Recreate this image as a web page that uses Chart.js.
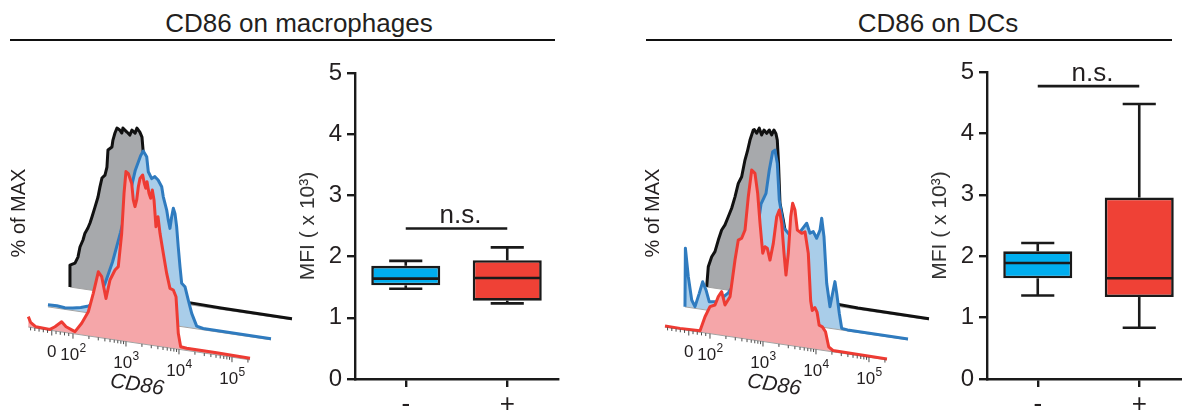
<!DOCTYPE html>
<html>
<head>
<meta charset="utf-8">
<script src="https://cdn.jsdelivr.net/npm/chart.js@4.4.1/dist/chart.umd.min.js"></script>
<style>
html, body { margin: 0; padding: 0; background: #fff; overflow: hidden; width: 1182px; height: 416px; }
.wrap { position: relative; width: 1182px; height: 416px; font-family: 'Liberation Sans', Arial, sans-serif; color: #231f20; }
canvas { position: absolute; }
.ttl { position: absolute; top: 8px; height: 30px; line-height: 30px; font-size: 26px; text-align: center; white-space: nowrap; }
.rule { position: absolute; top: 38.5px; height: 2.5px; background: #111; }
</style>
</head>
<body>
<div class="wrap">
  <div class="ttl" style="left:149px;width:300px">CD86 on macrophages</div>
  <div class="rule" style="left:10px;width:545px"></div>
  <div class="ttl" style="left:788px;width:300px">CD86 on DCs</div>
  <div class="rule" style="left:646px;width:526px"></div>
  <canvas id="histMac" width="300" height="300" style="left:0;top:100px"></canvas>
  <canvas id="boxMac" width="278" height="366" style="left:290px;top:50px"></canvas>
  <canvas id="histDC" width="300" height="300" style="left:637px;top:100px"></canvas>
  <canvas id="boxDC" width="278" height="366" style="left:922px;top:50px"></canvas>
</div>
<script>
// ---- histogram data: [CD86 display position (decades), % of max] ----
const macRed = [[1.157,6.1],[1.2,3],[1.3,0.8],[1.566,0.5],[1.66,2.5],[1.786,6],[1.87,3.5],[2.038,1.4],[2.164,6.9],[2.289,14.2],[2.383,25.5],[2.478,38.6],[2.542,36],[2.623,23.6],[2.698,34.8],[2.793,41.1],[2.855,43.4],[2.919,63.3],[2.963,86.9],[3.0,100],[3.044,99],[3.108,93.5],[3.138,83.9],[3.17,80.1],[3.202,84.2],[3.233,92.1],[3.265,97.2],[3.315,99.4],[3.346,94.6],[3.372,91.9],[3.397,95.8],[3.434,89.2],[3.466,86.4],[3.497,91.4],[3.529,85.7],[3.566,70.1],[3.604,76.2],[3.642,66.6],[3.704,55.1],[3.768,43.6],[3.83,35.1],[3.893,34.4],[3.944,30.7],[3.987,9.4],[4.032,1.7],[4.145,1.3],[4.71,1.3],[5.34,0.9]];
const macBlue = [[1.132,1.2],[1.3,1.4],[1.45,0.9],[1.6,1.5],[1.75,2.5],[1.9,4],[2.05,8],[2.2,18],[2.35,32],[2.5,50],[2.65,70],[2.78,88],[2.88,97],[2.93,100],[2.995,96.9],[3.025,88.2],[3.089,84.5],[3.15,85.9],[3.21,84.2],[3.278,80.6],[3.308,74.8],[3.372,67.3],[3.402,61.6],[3.434,56.8],[3.466,63.8],[3.497,68.9],[3.529,65.9],[3.56,58.4],[3.59,46.7],[3.623,35.1],[3.655,25.5],[3.717,23.8],[3.78,16.2],[3.844,8.7],[3.938,1.6],[4.06,0.8],[5.34,0.6]];
const macBlack = [[1.151,0],[1.151,12.9],[1.246,14.5],[1.302,18.3],[1.34,24.4],[1.397,28.8],[1.434,33],[1.49,36.3],[1.529,39.4],[1.566,43.1],[1.623,49.2],[1.68,55.4],[1.717,61.5],[1.755,66.9],[1.812,68.9],[1.849,73.8],[1.868,83.9],[1.943,86],[1.962,90.2],[2.0,94.5],[2.038,97.6],[2.09,96.7],[2.13,95.1],[2.15,98.1],[2.226,96.1],[2.28,94.6],[2.32,97.7],[2.38,96.2],[2.415,99.3],[2.47,97.2],[2.51,94.4],[2.585,66.6],[2.66,59.9],[2.75,40],[2.85,22],[3.0,8],[3.2,3],[3.4,1.2],[4.0,0.8],[5.34,0.6]];

const dcRed = [[1.151,0.6],[1.434,0.5],[1.812,0.9],[1.906,9.5],[2.0,15.9],[2.095,17.3],[2.157,22.5],[2.22,25.7],[2.283,18.2],[2.378,23.5],[2.472,45.5],[2.534,57.5],[2.598,58.9],[2.661,64],[2.723,83.9],[2.787,99.9],[2.849,98.2],[2.9,86.7],[2.944,69.3],[2.995,51.9],[3.038,55.9],[3.082,55.2],[3.132,48.5],[3.195,58.6],[3.259,74.6],[3.308,78.8],[3.353,71.2],[3.397,53.7],[3.434,41.1],[3.478,54.1],[3.523,75.8],[3.56,83.9],[3.604,80.1],[3.648,68.6],[3.73,67],[3.793,68.2],[3.855,55.8],[3.9,28],[3.93,22.5],[3.98,24.5],[4.02,22],[4.06,14.5],[4.12,13.8],[4.18,11.2],[4.24,2.6],[4.32,0.8],[5.34,0.5]];
const dcBlue = [[1.132,0],[1.14,34.5],[1.195,18],[1.259,4.6],[1.321,1],[1.402,9.2],[1.466,16.3],[1.529,11.8],[1.591,5.1],[1.75,6],[1.95,12],[2.15,22],[2.35,32],[2.47,45],[2.566,67],[2.661,73.8],[2.723,87.8],[2.787,98.9],[2.83,100],[2.874,92.5],[2.912,71],[3.0,55],[3.15,50],[3.3,54],[3.429,59.8],[3.491,54.2],[3.553,55.4],[3.617,51.8],[3.68,56.9],[3.712,64],[3.755,53.4],[3.806,26.2],[3.868,12.7],[3.93,22.8],[3.962,27.9],[3.995,21.2],[4.044,9.6],[4.089,1],[4.2,0.6],[5.34,0.5]];
const dcBlack = [[1.146,0],[1.176,12.1],[1.24,18.2],[1.302,21.5],[1.365,28.6],[1.428,34.8],[1.491,38.1],[1.553,43.2],[1.617,48.5],[1.68,55.5],[1.742,63.7],[1.806,67.9],[1.868,78],[1.912,83.1],[1.963,90.2],[2.025,96.4],[2.044,96.8],[2.089,94.8],[2.138,98],[2.183,94.2],[2.227,97.3],[2.278,95.6],[2.327,97.8],[2.372,95.1],[2.415,98.2],[2.453,96.2],[2.478,92.6],[2.5,80],[2.529,55.6],[2.591,46],[2.655,34.6],[2.75,18],[2.9,8],[3.1,3],[3.4,1.5],[4.0,0.8],[5.34,0.6]];

// CD86 axis ticks (raw fluorescence values) and labelled decades
const linTicks = [-100, -80, -60, -40, -20, 0, 20, 40, 60, 80, 100];
const logDecades = [2, 3, 4, 5];
const axisLabels = [{v: 0, text: '0'}, {v: 1e2, text: '10', sup: '2'}, {v: 1e3, text: '10', sup: '3'}, {v: 1e4, text: '10', sup: '4'}, {v: 1e5, text: '10', sup: '5'}];
const axisTop = 262144;

// ---- box plot data (MFI x 10^3) ----
const groups = ['-', '+'];
const macMin = [1.475, 1.235], macQ1 = [1.53, 1.28], macMed = [1.64, 1.65], macQ3 = [1.85, 1.94], macMax = [1.93, 2.15];
const dcMin = [1.36, 0.835], dcQ1 = [1.64, 1.335], dcMed = [1.89, 1.64], dcQ3 = [2.08, 2.955], dcMax = [2.215, 4.48];
const macSig = 2.46, dcSig = 4.77;

const FONT = "'Liberation Sans', Arial, sans-serif";
const INK = '#231f20';
Chart.defaults.font.family = FONT;
Chart.defaults.color = INK;

// offset ("staggered") overlay geometry, in chart units
const LAYER_DX = 0.396, LAYER_DY = 11.76, SLOPE = 4.614, U0 = 1.151, BASE0 = 42.94;
function baseY(u, k) { return BASE0 + k * LAYER_DY - SLOPE * (u - U0); }
function toU(v) { return v <= 100 ? 1.6 + 0.004 * v : Math.log10(v); }

function histDatasets(layers) {
  const out = [];
  layers.forEach((L, k) => {
    const pts = L.data.map(([u, h]) => ({x: u + k * LAYER_DX, y: baseY(u, k) + h}));
    const ends = [L.data[0][0], L.data[L.data.length - 1][0]];
    const base = ends.map(u => ({x: u + k * LAYER_DX, y: baseY(u, k)}));
    out.push({data: pts, borderColor: L.line, borderWidth: 3, fill: false});
    out.push({data: base, borderColor: '#a3a3a3', borderWidth: 1, fill: false});
    out.push({data: [base[0]].concat(pts, [base[1]]), borderColor: 'rgba(0,0,0,0)', borderWidth: 0, backgroundColor: L.fill, fill: 'shape'});
  });
  out.forEach(d => { d.pointRadius = 0; d.tension = 0; d.borderJoinStyle = 'round'; });
  return out;
}

const flowAxis = {
  id: 'flowAxis',
  afterDatasetsDraw(chart, args, o) {
    const {ctx} = chart, xs = chart.scales.x, ys = chart.scales.y;
    const P = u => [xs.getPixelForValue(u), ys.getPixelForValue(baseY(u, 0))];
    const uMax = toU(axisTop);
    ctx.save();
    ctx.strokeStyle = '#4a4a4a';
    ctx.lineWidth = 1;
    const tick = (u, len) => {
      if (u > uMax) return;
      const [px, py] = P(u);
      ctx.beginPath(); ctx.moveTo(px, py); ctx.lineTo(px, py + len); ctx.stroke();
    };
    linTicks.forEach(v => tick(toU(v), v === 0 || v === 100 ? 5 : 3));
    logDecades.forEach(d => {
      for (let m = 2; m <= 9; m++) tick(d + Math.log10(m), 3);
      if (d > 2) tick(d, 5);
    });
    ctx.fillStyle = INK;
    ctx.textBaseline = 'middle';
    axisLabels.forEach(l => {
      const [px, py] = P(toU(l.v));
      ctx.font = '17px ' + FONT;
      const w1 = ctx.measureText(l.text).width;
      let w2 = 0;
      if (l.sup) { ctx.font = '12px ' + FONT; w2 = ctx.measureText(l.sup).width; }
      const x0 = px - (w1 + w2) / 2, y0 = py + 22;
      ctx.font = '17px ' + FONT;
      ctx.textAlign = 'left';
      ctx.fillText(l.text, x0, y0);
      if (l.sup) { ctx.font = '12px ' + FONT; ctx.fillText(l.sup, x0 + w1 + 0.5, y0 - 7); }
    });
    // axis title, tilted with the axis
    const [ax, ay] = P(3.208), [bx, by] = P(4.208);
    ctx.save();
    ctx.translate(ax, ay + 42);
    ctx.rotate(Math.atan2(by - ay, bx - ax));
    ctx.font = 'italic 21px ' + FONT;
    ctx.textAlign = 'center';
    ctx.fillText('CD86', 0, 0);
    ctx.restore();
    ctx.save();
    ctx.translate(o.labelX, 113);
    ctx.rotate(-Math.PI / 2);
    ctx.font = '20px ' + FONT;
    ctx.textAlign = 'center';
    ctx.fillText('% of MAX', 0, 0);
    ctx.restore();
    ctx.restore();
  }
};

function makeHist(id, red, blue, black, labelX) {
  return new Chart(document.getElementById(id), {
    type: 'line',
    data: {datasets: histDatasets([
      {data: red, line: '#ee3b33', fill: '#f5a6a9'},
      {data: blue, line: '#2f7bbf', fill: '#a9cde9'},
      {data: black, line: '#111111', fill: '#a7a9ac'}
    ])},
    options: {
      responsive: false, animation: false, events: [],
      layout: {padding: 0},
      plugins: {legend: {display: false}, tooltip: {enabled: false}, flowAxis: {labelX: labelX}},
      scales: {
        x: {type: 'linear', display: false, min: 0.623, max: 0.623 + 300 / 53},
        y: {type: 'linear', display: false, min: 0, max: 300 / 1.7}
      }
    },
    plugins: [flowAxis]
  });
}

const boxExtras = {
  id: 'boxExtras',
  afterDatasetsDraw(chart, args, o) {
    const {ctx} = chart, xs = chart.scales.x, ys = chart.scales.y;
    const bars = chart.getDatasetMeta(0).data;
    ctx.save();
    ctx.strokeStyle = '#1a1a1a';
    ctx.lineWidth = 2.6;
    const seg = (x1, y1, x2, y2) => { ctx.beginPath(); ctx.moveTo(x1, y1); ctx.lineTo(x2, y2); ctx.stroke(); };
    bars.forEach((bar, i) => {
      const half = bar.width / 2, cap = bar.width * 0.24;
      const yMed = ys.getPixelForValue(o.med[i]);
      seg(bar.x - half + 1, yMed, bar.x + half - 1, yMed);
      const yHi = ys.getPixelForValue(o.max[i]), yQ3 = ys.getPixelForValue(o.q3[i]);
      const yLo = ys.getPixelForValue(o.min[i]), yQ1 = ys.getPixelForValue(o.q1[i]);
      seg(bar.x, yQ3, bar.x, yHi); seg(bar.x - cap, yHi, bar.x + cap, yHi);
      seg(bar.x, yQ1, bar.x, yLo); seg(bar.x - cap, yLo, bar.x + cap, yLo);
    });
    const x1 = xs.getPixelForValue(0), x2 = xs.getPixelForValue(1), yS = ys.getPixelForValue(o.sig);
    ctx.lineWidth = 2.6;
    seg(x1, yS, x2, yS);
    ctx.fillStyle = INK;
    ctx.font = '26px ' + FONT;
    ctx.textAlign = 'center';
    ctx.textBaseline = 'alphabetic';
    ctx.fillText('n.s.', (x1 + x2) / 2 + 4, yS - 5);
    ctx.restore();
  }
};

function makeBox(id, mins, q1s, meds, q3s, maxs, sig, padTop) {
  const axisCol = '#1a1a1a';
  return new Chart(document.getElementById(id), {
    type: 'bar',
    data: {
      labels: groups,
      datasets: [{
        data: q1s.map((q, i) => [q, q3s[i]]),
        backgroundColor: ['#00aeef', '#ef4136'],
        borderColor: axisCol, borderWidth: 2.6, borderSkipped: false,
        barPercentage: 0.68, categoryPercentage: 1
      }]
    },
    options: {
      responsive: false, animation: false, events: [],
      layout: {padding: {top: padTop, right: 10, left: 0, bottom: 0}},
      plugins: {
        legend: {display: false}, tooltip: {enabled: false},
        boxExtras: {min: mins, q1: q1s, med: meds, q3: q3s, max: maxs, sig: sig}
      },
      scales: {
        x: {
          grid: {offset: false, drawOnChartArea: false, tickLength: 8, color: axisCol, lineWidth: 2.4},
          border: {color: axisCol, width: 2.4},
          ticks: {font: {size: 26}, color: INK, padding: 2},
          afterFit: s => { s.height = 37; }
        },
        y: {
          min: 0, max: 5,
          ticks: {stepSize: 1, font: {size: 24}, color: INK, padding: 5},
          grid: {drawOnChartArea: false, tickLength: 8, color: axisCol, lineWidth: 2.4},
          border: {color: axisCol, width: 2.4},
          title: {display: true, text: 'MFI ( x 10³)', font: {size: 21}, color: '#333', padding: {top: 6, bottom: 0}},
          afterFit: s => { s.width = 65; }
        }
      }
    },
    plugins: [boxExtras]
  });
}

makeHist('histMac', macRed, macBlue, macBlack, 19);
makeBox('boxMac', macMin, macQ1, macMed, macQ3, macMax, macSig, 23);
makeHist('histDC', dcRed, dcBlue, dcBlack, 16);
makeBox('boxDC', dcMin, dcQ1, dcMed, dcQ3, dcMax, dcSig, 22);
</script>
</body>
</html>
